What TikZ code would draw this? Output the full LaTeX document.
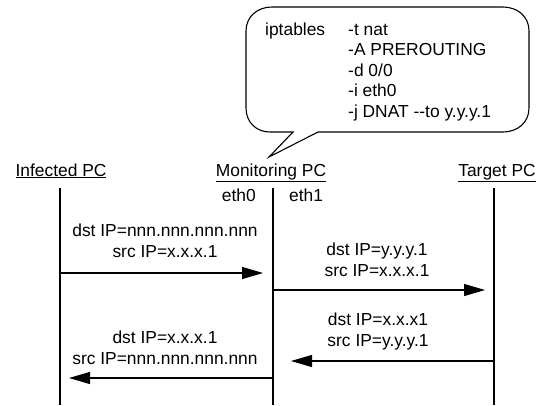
\documentclass[tikz,border=0pt]{standalone}
\usepackage{fontspec}
\setmainfont{Liberation Sans}
\usetikzlibrary{arrows.meta}
\begin{document}
\begin{tikzpicture}[x=1pt,y=-1pt,
  lbl/.style={font=\fontsize{17.4}{20.5}\selectfont, inner sep=0pt, anchor=base},
  msglbl/.style={lbl, align=center},
  life/.style={line width=1.1pt},
  msg/.style={line width=1.1pt, -{Triangle[length=21pt,width=12pt]}},
  bubble/.style={line width=1.1pt},
]
\useasboundingbox (0,0) rectangle (545,405);

% participants
\node[lbl] (infected) at (61,176) {\underline{Infected PC}};
\node[lbl] (monitor)  at (271,176) {\underline{Monitoring PC}};
\node[lbl] (target)   at (497,176) {\underline{Target PC}};

% lifelines
\coordinate (inf-top) at (60,188);  \coordinate (inf-bot) at (60,405);
\coordinate (mon-top) at (273,188); \coordinate (mon-bot) at (273,405);
\coordinate (tgt-top) at (494,188); \coordinate (tgt-bot) at (494,405);
\draw[life] (inf-top) -- (inf-bot);
\draw[life] (mon-top) -- (mon-bot);
\draw[life] (tgt-top) -- (tgt-bot);

% interfaces of the monitoring host
\node[lbl, anchor=base east] (eth0) at (256,201) {eth0};
\node[lbl, anchor=base west] (eth1) at (289,201) {eth1};

% message end points on the lifelines
\coordinate (inf-m1) at (60,273);  \coordinate (mon-m1) at (273,273);
\coordinate (mon-m2) at (273,290); \coordinate (tgt-m2) at (494,290);
\coordinate (tgt-m3) at (494,361); \coordinate (mon-m3) at (273,361);
\coordinate (mon-m4) at (273,378); \coordinate (inf-m4) at (60,378);

% messages
\draw[msg, shorten >=10pt] (inf-m1) -- (mon-m1);
\draw[msg, shorten >=9pt]  (mon-m2) -- (tgt-m2);
\draw[msg, shorten >=18pt] (tgt-m3) -- (mon-m3);
\draw[msg, shorten >=9pt]  (mon-m4) -- (inf-m4);

% labels (anchored at the baseline of their last line)
\node[msglbl] (l1) at (165,257) {dst IP=nnn.nnn.nnn.nnn\\src IP=x.x.x.1};
\node[msglbl] (l2) at (377,276) {dst IP=y.y.y.1\\src IP=x.x.x.1};
\node[msglbl] (l3) at (378,346) {dst IP=x.x.x1\\src IP=y.y.y.1};
\node[msglbl] (l4) at (165,364) {dst IP=x.x.x.1\\src IP=nnn.nnn.nnn.nnn};

% speech bubble with the NAT rule
\coordinate (tip) at (269,157);
\draw[bubble] (293,132) -- (tip) -- (318,132) -- (503,132)
  .. controls (517,132) and (529,123) .. (529,108)
  -- (529,31)
  .. controls (529,16) and (517,7) .. (503,7)
  -- (272,7)
  .. controls (257,7) and (246,17) .. (246,31)
  -- (246,108)
  .. controls (246,123) and (257,132) .. (270,132)
  -- cycle;
\node[lbl, anchor=base west] (cmd) at (265,35) {iptables};
\node[lbl, anchor=base west, align=left] (opts) at (348,117)
  {-t nat\\-A PREROUTING\\-d 0/0\\-i eth0\\-j DNAT -{}-to y.y.y.1};
\end{tikzpicture}
\end{document}
